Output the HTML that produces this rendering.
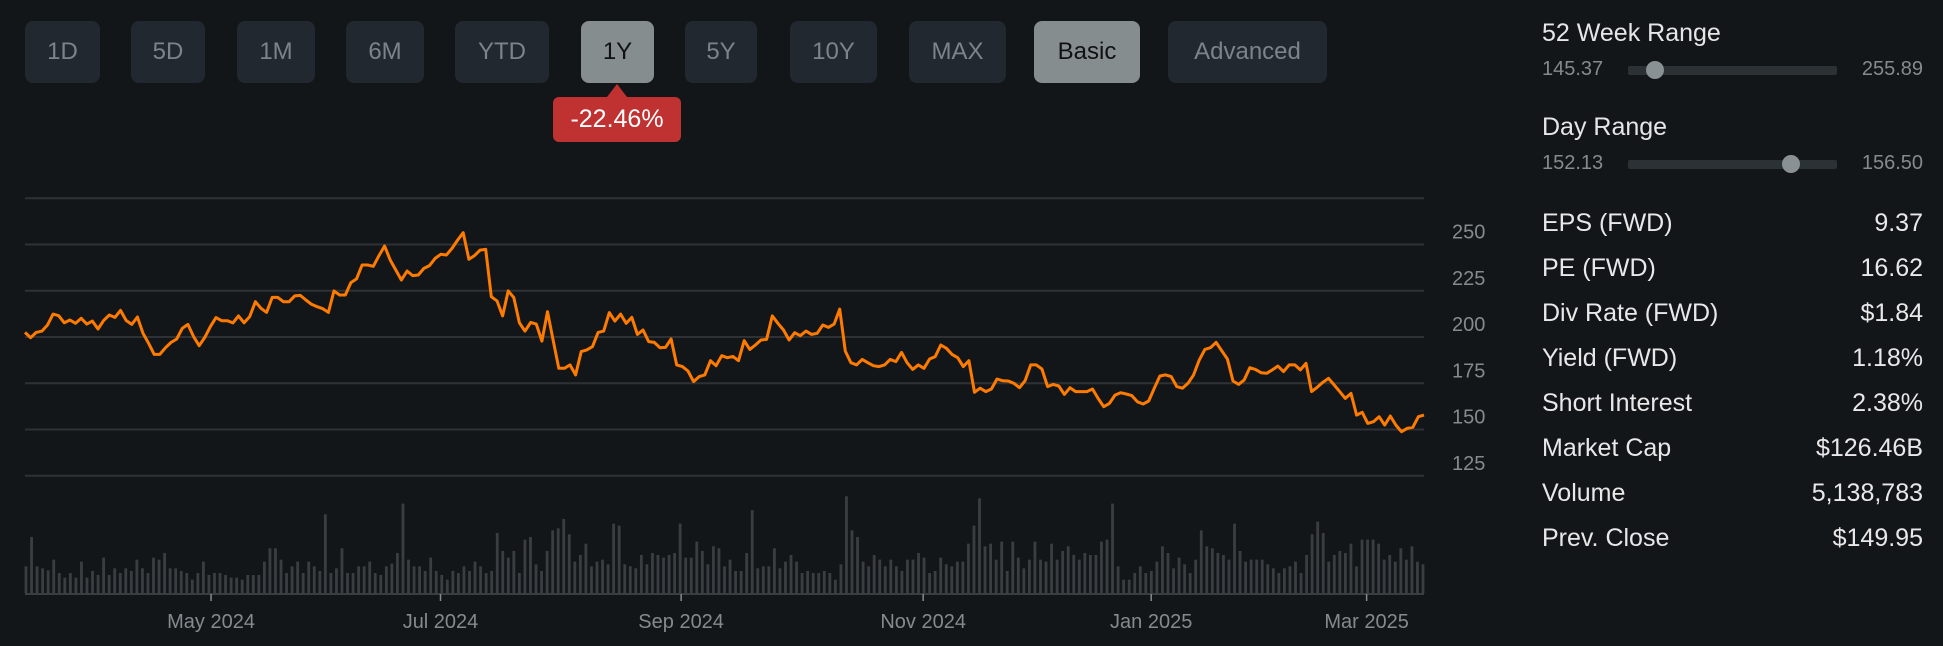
<!DOCTYPE html>
<html><head><meta charset="utf-8">
<style>
html,body{margin:0;padding:0;background:#131619;width:1943px;height:646px;overflow:hidden;font-family:"Liberation Sans",Arial,sans-serif;}
.btn{position:absolute;top:21px;height:62px;border-radius:8px;background:#222830;color:#7d8388;font-size:24px;display:flex;align-items:center;justify-content:center;}
.btn.on{background:#868d8f;color:#111;}
.badge{position:absolute;left:553px;top:97px;width:128px;height:45px;background:#c03232;border-radius:6px;color:#fff;font-size:25px;display:flex;align-items:center;justify-content:center;}
.badge:before{content:"";position:absolute;left:54px;top:-13px;border-left:10px solid transparent;border-right:10px solid transparent;border-bottom:13px solid #c03232;}
.rp{position:absolute;left:1542px;color:#e6e6e6;font-size:25px;}
.sm{position:absolute;color:#858a8f;font-size:20px;}
.track{position:absolute;left:1628px;width:209px;height:9px;background:#2c3136;border-radius:2px;}
.knob{position:absolute;width:18px;height:18px;border-radius:50%;background:#8a9195;}
.row{position:absolute;left:1542px;width:381px;font-size:25px;color:#e8e8e8;display:flex;justify-content:space-between;}
</style></head><body>
<div class="btn" style="left:25px;width:75px">1D</div>
<div class="btn" style="left:131px;width:74px">5D</div>
<div class="btn" style="left:237px;width:78px">1M</div>
<div class="btn" style="left:346px;width:78px">6M</div>
<div class="btn" style="left:455px;width:94px">YTD</div>
<div class="btn on" style="left:581px;width:73px">1Y</div>
<div class="btn" style="left:685px;width:72px">5Y</div>
<div class="btn" style="left:790px;width:87px">10Y</div>
<div class="btn" style="left:909px;width:97px">MAX</div>
<div class="btn on" style="left:1034px;width:106px">Basic</div>
<div class="btn" style="left:1168px;width:159px">Advanced</div>
<div class="badge">-22.46%</div>

<svg id="chart" width="1943" height="646" style="position:absolute;left:0;top:0"></svg>

<div class="rp" style="top:19px">52 Week Range</div>
<div class="sm" style="left:1542px;top:58px">145.37</div>
<div class="track" style="top:66px"></div>
<div class="knob" style="left:1646px;top:61px"></div>
<div class="sm" style="right:20px;top:58px">255.89</div>

<div class="rp" style="top:113px">Day Range</div>
<div class="sm" style="left:1542px;top:152px">152.13</div>
<div class="track" style="top:160px"></div>
<div class="knob" style="left:1782px;top:155px"></div>
<div class="sm" style="right:20px;top:152px">156.50</div>

<div class="row" style="top:209px"><span>EPS (FWD)</span><span>9.37</span></div>
<div class="row" style="top:254px"><span>PE (FWD)</span><span>16.62</span></div>
<div class="row" style="top:299px"><span>Div Rate (FWD)</span><span>$1.84</span></div>
<div class="row" style="top:344px"><span>Yield (FWD)</span><span>1.18%</span></div>
<div class="row" style="top:389px"><span>Short Interest</span><span>2.38%</span></div>
<div class="row" style="top:434px"><span>Market Cap</span><span>$126.46B</span></div>
<div class="row" style="top:479px"><span>Volume</span><span>5,138,783</span></div>
<div class="row" style="top:524px"><span>Prev. Close</span><span>$149.95</span></div>

<script>
const prices=[202.5,199.6,202.5,203.2,206.5,212.4,211.5,207.7,209.2,207.4,210.1,207.0,208.6,204.3,209.0,211.9,210.6,214.4,209.0,206.8,210.8,202.0,196.6,190.6,190.6,194.2,197.1,198.9,204.7,206.8,200.2,195.3,199.8,205.6,210.5,208.8,208.8,207.6,211.4,207.7,211.0,219.1,215.5,213.3,221.4,221.4,219.1,219.1,222.2,222.5,220.0,217.7,216.4,215.3,213.3,224.9,222.7,222.7,229.4,231.4,238.9,238.9,238.2,244.0,249.2,241.6,236.2,230.8,235.7,233.2,233.5,237.1,238.6,242.5,244.7,244.3,247.9,252.4,256.4,242.0,244.0,247.0,247.4,
221.8,219.5,211.4,224.9,221.3,207.7,203.2,207.9,207.0,197.8,213.7,198.4,183.1,183.1,184.9,179.5,192.1,193.0,194.8,202.5,203.2,213.2,208.6,212.4,207.4,210.6,201.4,203.8,197.5,197.1,194.2,194.4,198.9,184.9,184.0,181.6,175.9,178.6,179.5,187.2,184.5,189.9,188.8,189.5,187.2,198.0,193.3,195.7,198.4,198.7,211.4,207.4,203.8,198.4,202.3,200.7,203.2,201.4,202.0,206.5,205.2,207.0,215.1,192.4,186.1,184.9,187.9,186.1,184.5,184.0,184.9,187.9,186.7,191.7,186.1,182.5,184.9,183.1,188.1,189.4,195.7,193.9,190.6,188.8,184.0,
187.2,170.1,172.3,170.5,171.9,177.3,176.4,176.2,175.0,172.6,176.4,184.9,184.9,182.7,173.2,174.4,173.5,169.0,172.6,170.5,170.5,170.5,171.9,166.8,162.3,164.1,168.6,169.9,169.2,168.3,165.0,163.8,165.4,172.3,178.9,179.5,178.6,173.2,172.3,175.0,179.5,187.6,193.3,194.2,197.1,192.6,188.1,176.2,174.4,176.8,183.4,182.5,180.7,180.4,182.2,184.3,181.3,184.9,184.9,182.2,185.8,170.5,172.8,175.5,177.7,174.1,170.5,166.8,169.5,157.8,159.3,153.3,154.2,156.9,152.4,157.3,152.4,148.8,150.6,151.2,156.9,157.8];
const volumes=[4.0,8.4,4.0,3.7,3.4,5.0,3.0,2.3,3.0,2.3,4.7,2.3,3.3,2.7,5.3,2.7,3.7,3.0,3.7,3.3,5.0,3.7,3.0,5.3,5.0,6.0,3.7,3.7,3.3,3.0,2.0,3.0,4.7,2.7,3.0,3.0,2.7,2.3,2.3,2.0,2.7,2.7,2.7,4.7,6.7,6.7,5.0,3.0,4.0,4.7,3.0,4.7,4.0,3.3,11.8,3.0,3.7,6.7,3.0,3.0,4.0,4.0,4.7,3.0,2.7,4.0,4.4,6.0,13.4,5.0,4.0,4.0,3.3,5.3,3.3,2.7,2.0,3.3,3.0,4.0,3.3,4.7,4.0,3.0,3.3,9.0,6.3,5.3,6.3,3.0,8.0,8.4,4.3,3.3,6.3,9.4,9.7,11.1,8.8,4.7,5.7,7.4,4.0,4.7,5.0,4.3,10.4,10.1,4.3,4.0,3.7,5.7,4.3,6.0,5.7,5.3,5.7,6.0,10.4,5.3,5.3,7.7,6.3,4.3,7.0,6.7,
4.0,5.0,3.3,3.3,6.0,12.4,3.7,4.0,4.0,6.7,3.7,4.7,5.7,4.7,3.0,3.3,3.0,3.0,3.3,3.0,2.0,4.3,14.5,9.4,8.4,4.7,4.0,5.7,5.0,4.0,5.0,4.0,3.3,5.0,5.0,6.0,5.3,3.0,3.3,5.3,4.3,4.0,4.7,4.7,7.4,10.1,14.2,7.0,7.4,5.0,7.7,3.3,7.7,5.3,3.7,5.0,7.7,5.0,4.7,7.4,5.0,6.3,7.0,5.7,5.0,6.0,5.7,5.7,7.7,8.0,13.4,4.0,2.0,2.0,3.0,4.0,3.0,3.3,4.7,7.0,6.0,3.7,5.3,4.3,3.0,5.0,9.4,7.0,6.7,6.0,5.7,5.0,10.4,6.3,4.7,5.0,5.0,5.0,4.3,3.7,3.0,3.7,4.0,4.7,3.0,5.7,8.8,10.7,9.0,4.7,5.7,6.3,6.0,7.4,4.0,8.0,8.0,8.0,7.4,5.0,5.7,4.7,6.7,5.0,7.0,4.7,4.3];
const yTicks=[250,225,200,175,150,125];
const gridValues=[275,250,225,200,175,150,125];
const xTickLabels=["May 2024","Jul 2024","Sep 2024","Nov 2024","Jan 2025","Mar 2025"];
// position of each month start as a fraction of the one-year time span
const xTickFrac=[0.133,0.297,0.469,0.642,0.805,0.959];

const NS="http://www.w3.org/2000/svg";
const svg=document.getElementById('chart');
const X0=25,X1=1424;
const yScale=v=>337-(v-200)*1.85;
const xScale=i=>X0+i*(X1-X0)/(prices.length-1);
const tScale=f=>X0+f*(X1-X0);
const vx=i=>X0+1+i*(X1-X0-2)/(volumes.length-1);
const VBASE=593,vScale=v=>v*6.67;
function mk(tag,attrs){const e=document.createElementNS(NS,tag);for(const k in attrs)e.setAttribute(k,attrs[k]);svg.appendChild(e);return e;}

gridValues.forEach(v=>{
  const l=mk('line',{x1:X0,x2:X1,y1:yScale(v),y2:yScale(v),stroke:'#2e3236','stroke-width':2});
  
  
});
yTicks.forEach(v=>{
  const t=mk('text',{x:1452,y:yScale(v)-6,fill:'#858a8f','font-size':20,'font-family':'Liberation Sans, sans-serif'});
  t.textContent=v;
  
  
});
volumes.forEach((v,i)=>{
  const h=vScale(v);
  const r=mk('rect',{x:vx(i)-1.4,y:VBASE-h,width:2.8,height:h,fill:'#3a3e42'});
  
  
});
const base=mk('line',{x1:X0,x2:X1,y1:VBASE+1,y2:VBASE+1,stroke:'#3a3e42','stroke-width':2});


xTickLabels.forEach((lab,k)=>{
  const x=tScale(xTickFrac[k]);
  const tk=mk('line',{x1:x,x2:x,y1:VBASE+1,y2:VBASE+8,stroke:'#858a8f','stroke-width':1.5});
  
  
  const t=mk('text',{x:x,y:628,fill:'#858a8f','font-size':20,'text-anchor':'middle','font-family':'Liberation Sans, sans-serif'});
  t.textContent=lab;
  
  
});
const d=prices.map((p,i)=>(i?'L':'M')+xScale(i).toFixed(1)+' '+yScale(p).toFixed(1)).join(' ');
const line=mk('path',{d:d,fill:'none',stroke:'#ff7b00','stroke-width':3,'stroke-linejoin':'round'});


</script>
</body></html>
